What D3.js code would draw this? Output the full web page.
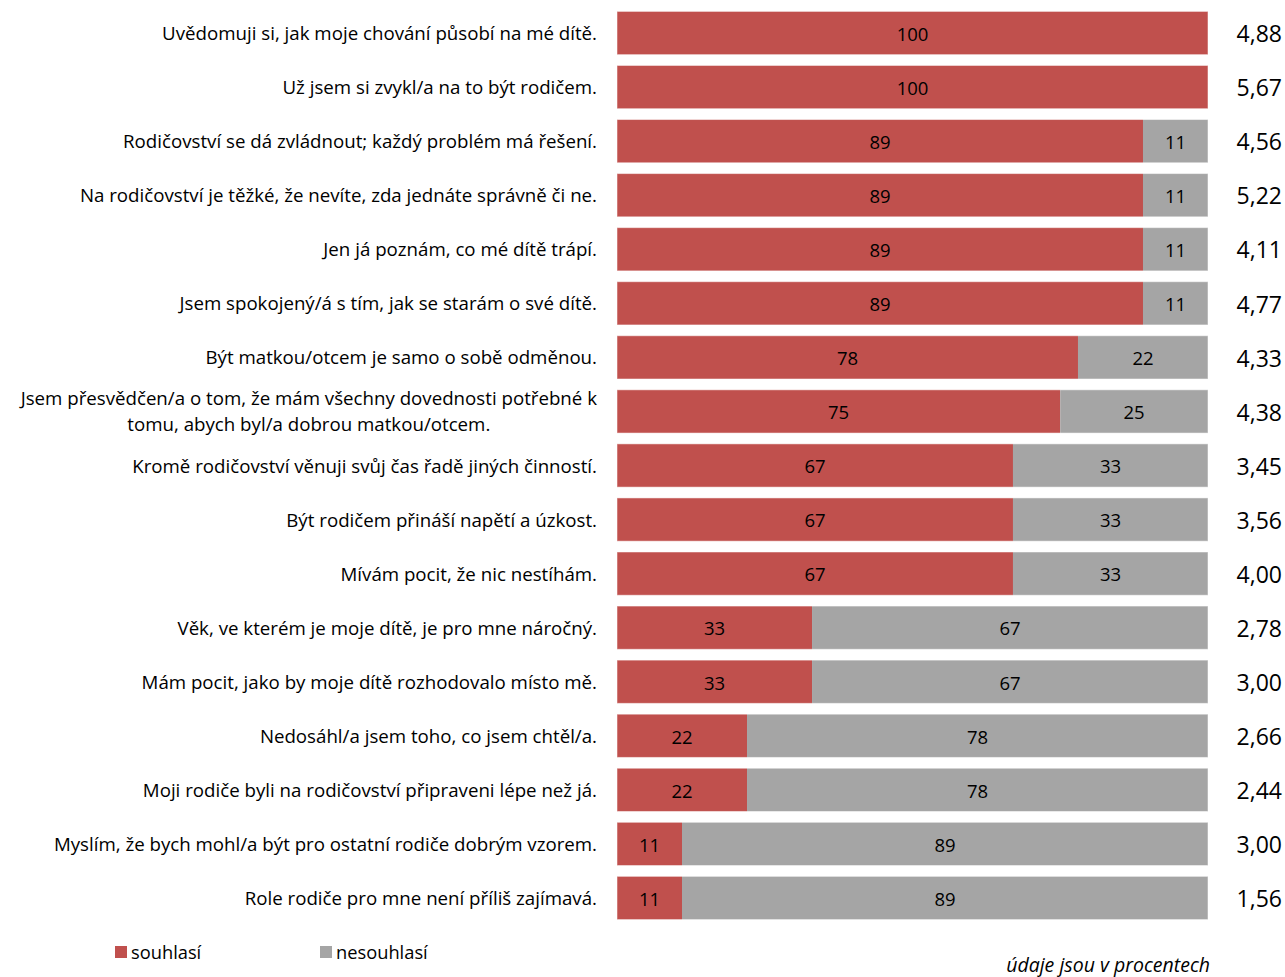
<!doctype html>
<html lang="cs">
<head>
<meta charset="utf-8">
<script src="https://d3js.org/d3.v7.min.js"></script>
<style>
  body { margin: 0; background: #fff; }
  text { font-family: "Open Sans", "Noto Sans", sans-serif; fill: #000; }
</style>
</head>
<body>
<script>
  var width = 1285, height = 977;

  // statements (one row each), agree / disagree in percent, mean score
  var statements = [
    "Uvědomuji si, jak moje chování působí na mé dítě.",
    "Už jsem si zvykl/a na to být rodičem.",
    "Rodičovství se dá zvládnout; každý problém má řešení.",
    "Na rodičovství je těžké, že nevíte, zda jednáte správně či ne.",
    "Jen já poznám, co mé dítě trápí.",
    "Jsem spokojený/á s tím, jak se starám o své dítě.",
    "Být matkou/otcem je samo o sobě odměnou.",
    "Jsem přesvědčen/a o tom, že mám všechny dovednosti potřebné k|tomu, abych byl/a dobrou matkou/otcem.",
    "Kromě rodičovství věnuji svůj čas řadě jiných činností.",
    "Být rodičem přináší napětí a úzkost.",
    "Mívám pocit, že nic nestíhám.",
    "Věk, ve kterém je moje dítě, je pro mne náročný.",
    "Mám pocit, jako by moje dítě rozhodovalo místo mě.",
    "Nedosáhl/a jsem toho, co jsem chtěl/a.",
    "Moji rodiče byli na rodičovství připraveni lépe než já.",
    "Myslím, že bych mohl/a být pro ostatní rodiče dobrým vzorem.",
    "Role rodiče pro mne není příliš zajímavá."
  ];
  var agree    = [100, 100, 89, 89, 89, 89, 78, 75, 67, 67, 67, 33, 33, 22, 22, 11, 11];
  var disagree = [0, 0, 11, 11, 11, 11, 22, 25, 33, 33, 33, 67, 67, 78, 78, 89, 89];
  var means = ["4,88", "5,67", "4,56", "5,22", "4,11", "4,77", "4,33", "4,38", "3,45",
               "3,56", "4,00", "2,78", "3,00", "2,66", "2,44", "3,00", "1,56"];
  var seriesNames = ["souhlasí", "nesouhlasí"];
  var colors = ["#C0504D", "#A5A5A5"];

  var svg = d3.select("body").append("svg")
      .attr("width", width)
      .attr("height", height);

  var x = d3.scaleLinear().domain([0, 100]).range([617, 1208]);
  var y = d3.scaleBand().domain(d3.range(statements.length))
      .range([6, 925]).paddingInner(0.2).paddingOuter(0.1);

  var rows = svg.selectAll("g.row")
      .data(statements)
    .enter().append("g")
      .attr("class", "row")
      .attr("transform", function(d, i) { return "translate(0," + y(i) + ")"; });

  var bh = y.bandwidth();

  // agree part
  rows.append("rect")
      .attr("x", x(0))
      .attr("width", function(d, i) { return x(agree[i]) - x(0); })
      .attr("height", bh)
      .attr("fill", colors[0]);

  // disagree part
  rows.filter(function(d, i) { return disagree[i] > 0; })
    .append("rect")
      .attr("x", function(d) { return x(agree[statements.indexOf(d)]); })
      .attr("width", function(d) { var i = statements.indexOf(d); return x(agree[i] + disagree[i]) - x(agree[i]); })
      .attr("height", bh)
      .attr("fill", colors[1]);

  // thin light outline like the original
  rows.append("rect")
      .attr("x", x(0))
      .attr("width", x(100) - x(0))
      .attr("height", bh)
      .attr("fill", "none")
      .attr("stroke", "#fff")
      .attr("stroke-opacity", 0.5)
      .attr("stroke-width", 1);

  // value labels
  rows.append("text")
      .attr("x", function(d, i) { return (x(0) + x(agree[i])) / 2; })
      .attr("y", bh / 2)
      .attr("dy", "0.42em")
      .attr("text-anchor", "middle")
      .style("font-size", "18.5px")
      .text(function(d, i) { return agree[i]; });

  rows.filter(function(d) { return disagree[statements.indexOf(d)] > 0; })
    .append("text")
      .attr("x", function(d) { var i = statements.indexOf(d); return (x(agree[i]) + x(100)) / 2; })
      .attr("y", bh / 2)
      .attr("dy", "0.42em")
      .attr("text-anchor", "middle")
      .style("font-size", "18.5px")
      .text(function(d) { return disagree[statements.indexOf(d)]; });

  // means on the right
  rows.append("text")
      .attr("x", 1282)
      .attr("y", bh / 2)
      .attr("dy", "0.4em")
      .attr("text-anchor", "end")
      .style("font-size", "23px")
      .text(function(d, i) { return means[i]; });

  // category labels
  rows.each(function(d) {
    var g = d3.select(this);
    var lines = d.split("|");
    var t = g.append("text")
        .attr("y", bh / 2)
        .style("font-size", "18.7px");
    if (lines.length === 1) {
      t.attr("x", 597).attr("dy", "0.38em").attr("text-anchor", "end").text(d);
    } else {
      t.attr("text-anchor", "middle");
      lines.forEach(function(l, k) {
        t.append("tspan").attr("dy", k === 0 ? "-0.33em" : "1.4em").text(l);
      });
      var w = 0;
      t.selectAll("tspan").each(function() { w = Math.max(w, this.getComputedTextLength()); });
      t.selectAll("tspan").attr("x", 597 - w / 2);
    }
  });

  // legend
  var legend = svg.selectAll("g.legend")
      .data(seriesNames)
    .enter().append("g")
      .attr("class", "legend")
      .attr("transform", function(d, i) { return "translate(" + (115 + i * 205) + ",946)"; });
  legend.append("rect")
      .attr("width", 12).attr("height", 12)
      .attr("fill", function(d, i) { return colors[i]; });
  legend.append("text")
      .attr("x", 16).attr("y", 6).attr("dy", "0.38em")
      .style("font-size", "18.3px")
      .text(function(d) { return d; });

  svg.append("text")
      .attr("x", 1210).attr("y", 972)
      .attr("text-anchor", "end")
      .style("font-size", "19.5px")
      .style("font-style", "italic")
      .text("údaje jsou v procentech");
</script>
</body>
</html>
